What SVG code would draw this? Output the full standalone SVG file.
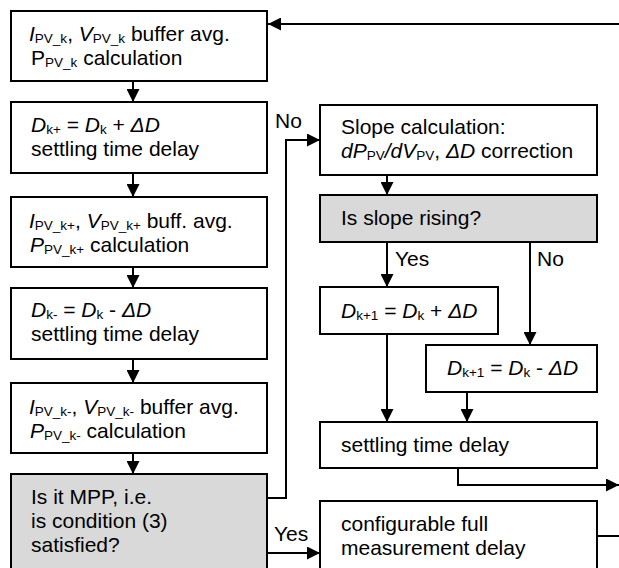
<svg xmlns="http://www.w3.org/2000/svg" width="619" height="568" viewBox="0 0 619 568" xml:space="preserve">
<style>
.box{fill:#fff;stroke:#000;stroke-width:2}
.dec{fill:#d9d9d9;stroke:#000;stroke-width:2}
.t{font-family:"Liberation Sans",Arial,sans-serif;font-size:21px;fill:#000}
.i{font-style:italic}
.s{font-size:13.5px;font-style:normal}
.ln{fill:none;stroke:#000;stroke-width:2}
.ar{marker-end:url(#ah)}
</style>
<defs>
<marker id="ah" markerUnits="userSpaceOnUse" markerWidth="14" markerHeight="13" refX="13" refY="6.5" orient="auto"><path d="M0,0 L13,6.5 L0,13 z" fill="#000"/></marker>
</defs>
<rect width="619" height="568" fill="#fff"/>
<g id="connectors">
<path class="ln ar" d="M619,24 H268"/>
<path class="ln ar" d="M133,81 V102"/>
<path class="ln ar" d="M133,173 V197"/>
<path class="ln ar" d="M133,267 V288"/>
<path class="ln ar" d="M133,359 V383"/>
<path class="ln ar" d="M133,453 V474"/>
<path class="ln ar" d="M267,498 H286 V140 H320"/>
<path class="ln ar" d="M387,175 V195"/>
<path class="ln ar" d="M387,242 V287"/>
<path class="ln ar" d="M530,242 V345"/>
<path class="ln ar" d="M387,334 V422"/>
<path class="ln ar" d="M467,392 V422"/>
<path class="ln ar" d="M458,468 V485 H619"/>
<path class="ln ar" d="M267,553 H320"/>
<path class="ln" d="M597,536 H619"/>
<text class="t" x="275" y="128">No</text>
<text class="t" x="274" y="541">Yes</text>
<text class="t" x="395" y="266">Yes</text>
<text class="t" x="537" y="266">No</text>
</g>
<g id="n1">
<rect class="box" x="11" y="11" width="256" height="70"/>
<text class="t" x="29" y="41"><tspan class="i">I</tspan><tspan class="s" dy="2">PV_k</tspan><tspan dy="-2">, </tspan><tspan class="i">V</tspan><tspan class="s" dy="2">PV_k</tspan><tspan dy="-2"> buffer avg.</tspan></text>
<text class="t" x="31" y="65"><tspan>P</tspan><tspan class="s" dy="2">PV_k</tspan><tspan dy="-2"> calculation</tspan></text>
</g>
<g id="n2">
<rect class="box" x="11" y="102" width="256" height="71"/>
<text class="t" x="31" y="132"><tspan class="i">D</tspan><tspan class="s" dy="2">k+</tspan><tspan dy="-2"> = </tspan><tspan class="i">D</tspan><tspan class="s" dy="2">k</tspan><tspan dy="-2"> + </tspan><tspan class="i">ΔD</tspan></text>
<text class="t" x="31" y="156">settling time delay</text>
</g>
<g id="n3">
<rect class="box" x="11" y="197" width="256" height="70"/>
<text class="t" x="29" y="228"><tspan class="i">I</tspan><tspan class="s" dy="2">PV_k+</tspan><tspan dy="-2">, </tspan><tspan class="i">V</tspan><tspan class="s" dy="2">PV_k+</tspan><tspan dy="-2"> buff. avg.</tspan></text>
<text class="t" x="30" y="252"><tspan class="i">P</tspan><tspan class="s" dy="2">PV_k+</tspan><tspan dy="-2"> calculation</tspan></text>
</g>
<g id="n4">
<rect class="box" x="11" y="288" width="256" height="71"/>
<text class="t" x="31" y="317"><tspan class="i">D</tspan><tspan class="s" dy="2">k-</tspan><tspan dy="-2"> = </tspan><tspan class="i">D</tspan><tspan class="s" dy="2">k</tspan><tspan dy="-2"> - </tspan><tspan class="i">ΔD</tspan></text>
<text class="t" x="31" y="341">settling time delay</text>
</g>
<g id="n5">
<rect class="box" x="11" y="383" width="256" height="70"/>
<text class="t" x="29" y="414"><tspan class="i">I</tspan><tspan class="s" dy="2">PV_k-</tspan><tspan dy="-2">, </tspan><tspan class="i">V</tspan><tspan class="s" dy="2">PV_k-</tspan><tspan dy="-2"> buffer avg.</tspan></text>
<text class="t" x="30" y="438"><tspan class="i">P</tspan><tspan class="s" dy="2">PV_k-</tspan><tspan dy="-2"> calculation</tspan></text>
</g>
<g id="n6">
<rect class="dec" x="11" y="474" width="256" height="100"/>
<text class="t" x="31" y="504">Is it MPP, i.e.</text>
<text class="t" x="31" y="528">is condition (3)</text>
<text class="t" x="31" y="552">satisfied?</text>
</g>
<g id="s1">
<rect class="box" x="320" y="105" width="277" height="70"/>
<text class="t" x="341" y="134">Slope calculation:</text>
<text class="t" x="341" y="158"><tspan class="i">dP</tspan><tspan class="s" dy="2">PV</tspan><tspan class="i" dy="-2">/dV</tspan><tspan class="s" dy="2">PV</tspan><tspan dy="-2">, </tspan><tspan class="i">ΔD</tspan><tspan> correction</tspan></text>
</g>
<g id="s2">
<rect class="dec" x="320" y="195" width="277" height="47"/>
<text class="t" x="341" y="225">Is slope rising?</text>
</g>
<g id="s3">
<rect class="box" x="320" y="287" width="178" height="47"/>
<text class="t" x="341" y="318"><tspan class="i">D</tspan><tspan class="s" dy="2">k+1</tspan><tspan dy="-2"> = </tspan><tspan class="i">D</tspan><tspan class="s" dy="2">k</tspan><tspan dy="-2"> + </tspan><tspan class="i">ΔD</tspan></text>
</g>
<g id="s4">
<rect class="box" x="426" y="345" width="171" height="47"/>
<text class="t" x="447" y="375"><tspan class="i">D</tspan><tspan class="s" dy="2">k+1</tspan><tspan dy="-2"> = </tspan><tspan class="i">D</tspan><tspan class="s" dy="2">k</tspan><tspan dy="-2"> - </tspan><tspan class="i">ΔD</tspan></text>
</g>
<g id="s5">
<rect class="box" x="320" y="422" width="277" height="46"/>
<text class="t" x="341" y="452">settling time delay</text>
</g>
<g id="s6">
<rect class="box" x="320" y="501" width="277" height="73"/>
<text class="t" x="341" y="531">configurable  full</text>
<text class="t" x="341" y="555">measurement delay</text>
</g>
</svg>
